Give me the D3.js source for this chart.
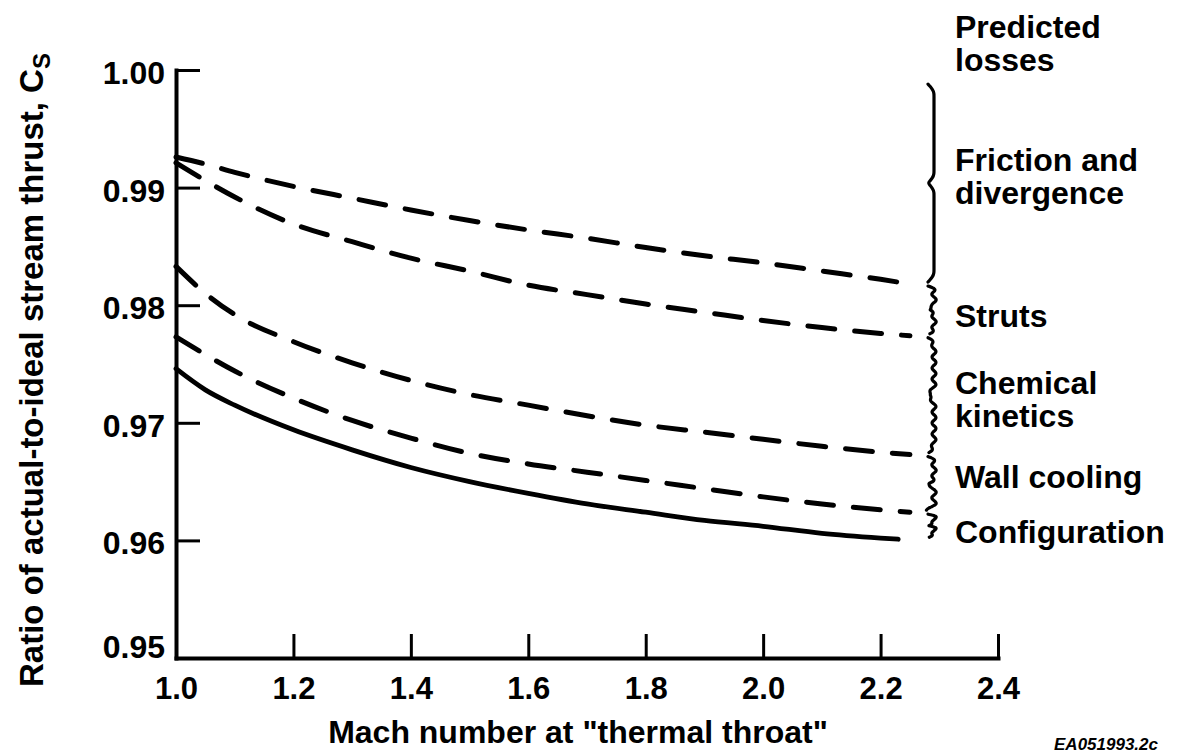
<!DOCTYPE html>
<html><head><meta charset="utf-8">
<script src="https://cdn.jsdelivr.net/npm/d3@7/dist/d3.min.js"></script>
<style>
html,body{margin:0;padding:0;background:#fff;}
svg{display:block;}
text{font-family:"Liberation Sans",Arial,Helvetica,sans-serif;fill:#000;}
</style>
</head><body>
<svg id="chart" width="1182" height="756"></svg>
<script>
// ---------- data ----------
const xTicks = [1.0, 1.2, 1.4, 1.6, 1.8, 2.0, 2.2, 2.4];
const yTicks = [0.95, 0.96, 0.97, 0.98, 0.99, 1.00];

const machDashed = [1.0, 1.05, 1.1, 1.2, 1.3, 1.4, 1.5, 1.6, 1.7, 1.8, 1.9, 2.0, 2.1, 2.2, 2.25];
const frictionDivergence = [0.9926, 0.9920, 0.9913, 0.9901, 0.9891, 0.9881, 0.9872, 0.9864, 0.9857, 0.9849, 0.9842, 0.9836, 0.9829, 0.9822, 0.9818];
const struts            = [0.9921, 0.9906, 0.9892, 0.9869, 0.9854, 0.9840, 0.9829, 0.9817, 0.9809, 0.9801, 0.9794, 0.9787, 0.9781, 0.9776, 0.9774];
const chemicalKinetics  = [0.9833, 0.9810, 0.9792, 0.9769, 0.9751, 0.9736, 0.9724, 0.9715, 0.9706, 0.9698, 0.9692, 0.9686, 0.9680, 0.9675, 0.9673];
const wallCooling       = [0.9773, 0.9758, 0.9744, 0.9721, 0.9702, 0.9687, 0.9674, 0.9665, 0.9658, 0.9651, 0.9644, 0.9637, 0.9631, 0.9626, 0.9624];

const machSolid = [1.0, 1.05, 1.1, 1.2, 1.3, 1.4, 1.5, 1.6, 1.7, 1.8, 1.9, 2.0, 2.1, 2.2, 2.23];
const configuration = [0.9746, 0.9728, 0.9715, 0.9694, 0.9677, 0.9662, 0.9650, 0.9640, 0.9631, 0.9624, 0.9617, 0.9612, 0.9606, 0.9602, 0.9601];

const braceTop = 0.9988;   // top of the "friction and divergence" bracket
const lossLabels = [
  ["Friction and", "divergence"],
  ["Struts"],
  ["Chemical", "kinetics"],
  ["Wall cooling"],
  ["Configuration"]
];
const headerLabel = ["Predicted", "losses"];
const xTitle = "Mach number at \"thermal throat\"";
const yTitle = "Ratio of actual-to-ideal stream thrust, C";
const yTitleSub = "S";
const figureId = "EA051993.2c";

// ---------- chart ----------
const svg = d3.select("#chart");
const x = d3.scaleLinear().domain([1.0, 2.4]).range([176, 998]);
const y = d3.scaleLinear().domain([0.95, 1.00]).range([658, 70]);

// axes
const yAxis = d3.axisLeft(y).tickValues(yTicks).tickFormat(d3.format(".2f"))
  .tickSizeInner(-24).tickSizeOuter(0).tickPadding(11);
const gy = svg.append("g").attr("transform", `translate(${x.range()[0]},0)`).call(yAxis);
const xAxis = d3.axisBottom(x).tickValues(xTicks).tickFormat(d3.format(".1f"))
  .tickSizeInner(-24).tickSizeOuter(0).tickPadding(19);
const gx = svg.append("g").attr("transform", `translate(0,${y.range()[0]})`).call(xAxis);

[gx, gy].forEach(g => {
  g.select(".domain").attr("stroke", "#000").attr("stroke-width", 4).attr("stroke-linecap", "square");
  g.selectAll(".tick line").attr("stroke", "#000").attr("stroke-width", 3);
  g.selectAll(".tick text").attr("fill", "#000").style("font-family", '"Liberation Sans",Arial,sans-serif')
    .style("font-weight", "bold");
});
gy.selectAll(".tick text").style("font-size", "32px")
  .attr("dy", (d, i) => i === 0 ? "-0.02em" : "0.42em");
gx.selectAll(".tick text").style("font-size", "31px").attr("dy", "0.71em");

// curves
const line = d3.line().x(d => x(d[0])).y(d => y(d[1])).curve(d3.curveMonotoneX);
const dashedSeries = [frictionDivergence, struts, chemicalKinetics, wallCooling];
dashedSeries.forEach(vals => {
  svg.append("path")
    .datum(machDashed.map((m, i) => [m, vals[i]]))
    .attr("d", line)
    .attr("fill", "none").attr("stroke", "#000").attr("stroke-width", 5)
    .attr("stroke-linecap", "round").attr("stroke-dasharray", "27,20");
});
svg.append("path")
  .datum(machSolid.map((m, i) => [m, configuration[i]]))
  .attr("d", line)
  .attr("fill", "none").attr("stroke", "#000").attr("stroke-width", 4.8)
  .attr("stroke-linecap", "round");

// braces
const braceX = x(2.4) - 70;
const bounds = [braceTop,
  frictionDivergence[frictionDivergence.length - 1],
  struts[struts.length - 1],
  chemicalKinetics[chemicalKinetics.length - 1],
  wallCooling[wallCooling.length - 1],
  configuration[configuration.length - 1]];

function bracePoints(y0, y1, wavy) {
  const pts = [], n = 80, w = 6;
  for (let i = 0; i <= n; i++) {
    const t = i / n;
    const d = Math.min(t, 1 - t, Math.abs(t - 0.5));
    const h = Math.abs(y1 - y0);
    const k = Math.min(0.12, 10 / h);
    const base = d < k ? Math.sin(d / k * Math.PI / 2) : 1;
    const yy = y0 + t * (y1 - y0);
    const wig = wavy ? 2.2 * Math.sin((yy - y0) / 11 * 2 * Math.PI) : 0;
    pts.push([braceX + base * w + wig, yy]);
  }
  return pts;
}
const braceLine = d3.line().curve(d3.curveBasis);
for (let i = 0; i < bounds.length - 1; i++) {
  const y0 = y(bounds[i]) + (i === 0 ? 0 : 2), y1 = y(bounds[i + 1]) - 2;
  svg.append("path").attr("d", braceLine(bracePoints(y0, y1, i > 0)))
    .attr("fill", "none").attr("stroke", "#000").attr("stroke-width", 3.2)
    .attr("stroke-linecap", "round");
}

// brace labels (first-line baseline offset from bracket middle, px)
const labelX = braceX + 27;
const lineH = 33;
const labelNudge = [-13, 17, -1, 4.5, 17];
lossLabels.forEach((lines, i) => {
  const mid = (y(bounds[i]) + y(bounds[i + 1])) / 2;
  const t = svg.append("text").attr("x", labelX).style("font-size", "32px").style("font-weight", "bold");
  lines.forEach((s, j) => {
    t.append("tspan").attr("x", labelX).attr("y", mid + labelNudge[i] + j * lineH).text(s);
  });
});
const hdr = svg.append("text").style("font-size", "32px").style("font-weight", "bold");
headerLabel.forEach((s, j) => hdr.append("tspan").attr("x", labelX).attr("y", 38 + j * lineH).text(s));

// axis titles
svg.append("text").attr("x", 578).attr("y", 743).attr("text-anchor", "middle")
  .style("font-size", "32px").style("font-weight", "bold").text(xTitle);
const yt = svg.append("text").attr("transform", "translate(43,370) rotate(-90)")
  .attr("text-anchor", "middle").style("font-size", "33px").style("font-weight", "bold");
yt.append("tspan").text(yTitle);
yt.append("tspan").attr("dy", 7).style("font-size", "24px").text(yTitleSub);

svg.append("text").attr("x", 1158).attr("y", 750).attr("text-anchor", "end")
  .style("font-size", "17px").style("font-weight", "bold").style("font-style", "italic").text(figureId);
</script>
</body></html>
